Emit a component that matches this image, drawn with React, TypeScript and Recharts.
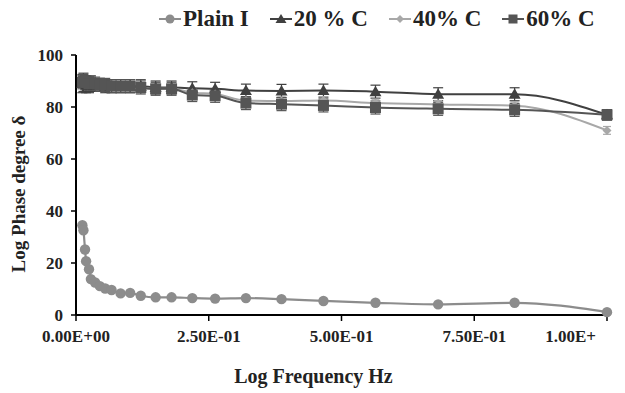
import React from "react";
import { LineChart, Line, XAxis, YAxis, ErrorBar, Label } from "recharts";

const xValues = [0.012, 0.014, 0.017, 0.019, 0.0245, 0.028, 0.036, 0.045, 0.055, 0.067, 0.084, 0.102, 0.122, 0.15, 0.18, 0.219, 0.262, 0.32, 0.387, 0.466, 0.564, 0.682, 0.826, 1.0];
const plainI = [34.5, 32.6, 25.2, 20.7, 17.6, 13.8, 12.5, 11.1, 10.2, 9.6, 8.3, 8.5, 7.4, 6.8, 6.8, 6.5, 6.3, 6.5, 6.1, 5.4, 4.7, 4.1, 4.7, 1.1];
const c20 = [89, 89.5, 89, 88.5, 88.5, 89, 88.5, 88.5, 88, 88, 88, 88, 88, 87.5, 87.5, 87.2, 87, 86.3, 86.2, 86.3, 85.9, 84.9, 84.9, 77];
const c20Err = [3.5, 3.5, 3, 3, 3, 3, 2.5, 2.5, 2.5, 2.5, 2.5, 2.5, 2.5, 2.5, 2.5, 2.5, 2.5, 2.5, 2.5, 2.5, 2.5, 2.5, 2.5, 2];
const c40 = [89.5, 89.5, 89.5, 89, 89, 89, 89, 88.5, 88.5, 88.5, 88, 88, 87.5, 87, 87, 85.5, 85, 82.5, 82.3, 82.5, 81.5, 81, 80.5, 71];
const c40Err = [1.5, 1.5, 1.5, 1.5, 1.5, 1.5, 1.5, 1.5, 1.5, 1.5, 1.5, 1.5, 1.5, 1.5, 1.5, 1.5, 1.5, 1.5, 1.5, 1.5, 1.5, 1.5, 1.5, 1.5];
const c60 = [89.5, 90, 89.5, 89.5, 89, 89, 89, 88.5, 88.5, 88, 88, 88, 87.5, 87, 87, 84.6, 84.3, 81.5, 81.1, 80.6, 79.8, 79.3, 78.9, 77];
const c60Err = [2.5, 2.5, 2.5, 2.5, 2.5, 2.5, 2.5, 2.5, 2.5, 2.5, 2.5, 2.5, 2.5, 2.5, 2.5, 2.5, 2.5, 2.5, 2.5, 2.5, 2.5, 2.5, 2.5, 2];
const xTicks = [0, 0.25, 0.5, 0.75, 1.0];
const xTickLabels = ["0.00E+00", "2.50E-01", "5.00E-01", "7.50E-01", "1.00E+"];
const yTicks = [0, 20, 40, 60, 80, 100];
const seriesNames = ["Plain I", "20 % C", "40% C", "60% C"];

const data = xValues.map((x, i) => ({
  x,
  plain: plainI[i],
  c20: c20[i],
  c20Err: c20Err[i],
  c40: c40[i],
  c40Err: c40Err[i],
  c60: c60[i],
  c60Err: c60Err[i],
}));

const COLORS = { plain: "#8c8c8c", c20: "#404040", c40: "#a8a8a8", c60: "#555555" };
const FONT = "'Liberation Serif', 'Times New Roman', serif";

const XTick = (p: any) => {
  const idx = xTicks.indexOf(p.payload.value);
  const last = idx === xTicks.length - 1;
  return (
    <text
      x={last ? p.x - 11 : p.x}
      y={p.y}
      dy="0.71em"
      textAnchor={last ? "end" : "middle"}
      fill="#222"
      fontFamily={FONT}
      fontWeight="bold"
      fontSize={17}
    >
      {xTickLabels[idx]}
    </text>
  );
};

const Circle = (color: string) => (p: any) => {
  if (p.cx == null || p.cy == null) return <g key={p.key} />;
  return <circle key={p.key} cx={p.cx} cy={p.cy} r={5.2} fill={color} stroke="none" />;
};
const Triangle = (color: string) => (p: any) => {
  if (p.cx == null || p.cy == null) return <g key={p.key} />;
  const s = 6;
  return <polygon key={p.key} points={`${p.cx},${p.cy - s} ${p.cx - s},${p.cy + s * 0.75} ${p.cx + s},${p.cy + s * 0.75}`} fill={color} />;
};
const Diamond = (color: string) => (p: any) => {
  if (p.cx == null || p.cy == null) return <g key={p.key} />;
  const s = 4.5;
  return <polygon key={p.key} points={`${p.cx},${p.cy - s} ${p.cx + s},${p.cy} ${p.cx},${p.cy + s} ${p.cx - s},${p.cy}`} fill={color} />;
};
const Square = (color: string) => (p: any) => {
  if (p.cx == null || p.cy == null) return <g key={p.key} />;
  const s = 5.5;
  return <rect key={p.key} x={p.cx - s} y={p.cy - s} width={2 * s} height={2 * s} fill={color} />;
};

const legendItems = [
  { name: seriesNames[0], color: COLORS.plain, shape: "circle" },
  { name: seriesNames[1], color: COLORS.c20, shape: "triangle" },
  { name: seriesNames[2], color: COLORS.c40, shape: "diamond" },
  { name: seriesNames[3], color: COLORS.c60, shape: "square" },
];

const LegendIcon = ({ shape, color }: { shape: string; color: string }) => (
  <svg width={22} height={14} style={{ display: "block" }}>
    <line x1={0} y1={7} x2={22} y2={7} stroke={color} strokeWidth={2} />
    {shape === "circle" && <circle cx={11} cy={7} r={4.5} fill={color} />}
    {shape === "triangle" && <polygon points="11,2 5.5,11 16.5,11" fill={color} />}
    {shape === "diamond" && <polygon points="11,3 15,7 11,11 7,7" fill={color} />}
    {shape === "square" && <rect x={6.5} y={2.5} width={9} height={9} fill={color} />}
  </svg>
);

const LegendBox = () => (
  <div style={{ position: "absolute", left: 159, top: 5, height: 28, display: "flex", alignItems: "center", gap: 21, fontFamily: FONT, fontWeight: "bold", fontSize: 23, color: "#222", whiteSpace: "nowrap" }}>
    {legendItems.map((it) => (
      <div key={it.name} style={{ display: "flex", alignItems: "center", gap: 2 }}>
        <LegendIcon shape={it.shape} color={it.color} />
        <span>{it.name}</span>
      </div>
    ))}
  </div>
);

export default function App() {
  return (
    <div style={{ position: "absolute", left: 0, top: 0, width: 625, height: 393, background: "#fff" }}>
      <LineChart width={625} height={393} data={data} margin={{ top: 55, right: 18, bottom: 48, left: 20 }}>
        <XAxis
          dataKey="x"
          type="number"
          domain={[0, 1]}
          ticks={xTicks}
          height={30}
          axisLine={{ stroke: "#000", strokeWidth: 2 }}
          tickLine={{ stroke: "#000", strokeWidth: 1.5 }}
          tickSize={6}
          tickMargin={9}
          tick={<XTick />}
          interval={0}
        >
          <Label
            value="Log Frequency Hz"
            position="bottom"
            offset={24}
            dx={-28}
            style={{ fill: "#222", fontFamily: FONT, fontWeight: "bold", fontSize: 20 }}
          />
        </XAxis>
        <YAxis
          type="number"
          domain={[0, 100]}
          ticks={yTicks}
          width={56}
          axisLine={{ stroke: "#000", strokeWidth: 2 }}
          tickLine={{ stroke: "#000", strokeWidth: 1.5 }}
          tickSize={5}
          tickMargin={8}
          tick={{ fill: "#222", fontFamily: FONT, fontWeight: "bold", fontSize: 17 }}
          interval={0}
        >
          <Label
            value="Log Phase degree δ"
            angle={-90}
            position="insideLeft"
            offset={-2}
            dy={9}
            style={{ textAnchor: "middle", fill: "#222", fontFamily: FONT, fontWeight: "bold", fontSize: 19 }}
          />
        </YAxis>
        <Line
          dataKey="plain"
          name={seriesNames[0]}
          type="monotone"
          stroke={COLORS.plain}
          strokeWidth={2.2}
          dot={Circle(COLORS.plain)}
          activeDot={false}
          isAnimationActive={false}
        />
        <Line
          dataKey="c20"
          name={seriesNames[1]}
          type="monotone"
          stroke={COLORS.c20}
          strokeWidth={2}
          dot={Triangle(COLORS.c20)}
          activeDot={false}
          isAnimationActive={false}
        >
          <ErrorBar dataKey="c20Err" direction="y" width={5} stroke={COLORS.c20} strokeWidth={1.2} />
        </Line>
        <Line
          dataKey="c40"
          name={seriesNames[2]}
          type="monotone"
          stroke={COLORS.c40}
          strokeWidth={2}
          dot={Diamond(COLORS.c40)}
          activeDot={false}
          isAnimationActive={false}
        >
          <ErrorBar dataKey="c40Err" direction="y" width={4} stroke={COLORS.c40} strokeWidth={1.2} />
        </Line>
        <Line
          dataKey="c60"
          name={seriesNames[3]}
          type="monotone"
          stroke={COLORS.c60}
          strokeWidth={2}
          dot={Square(COLORS.c60)}
          activeDot={false}
          isAnimationActive={false}
        >
          <ErrorBar dataKey="c60Err" direction="y" width={5} stroke={COLORS.c60} strokeWidth={1.2} />
        </Line>
      </LineChart>
      <LegendBox />
    </div>
  );
}
